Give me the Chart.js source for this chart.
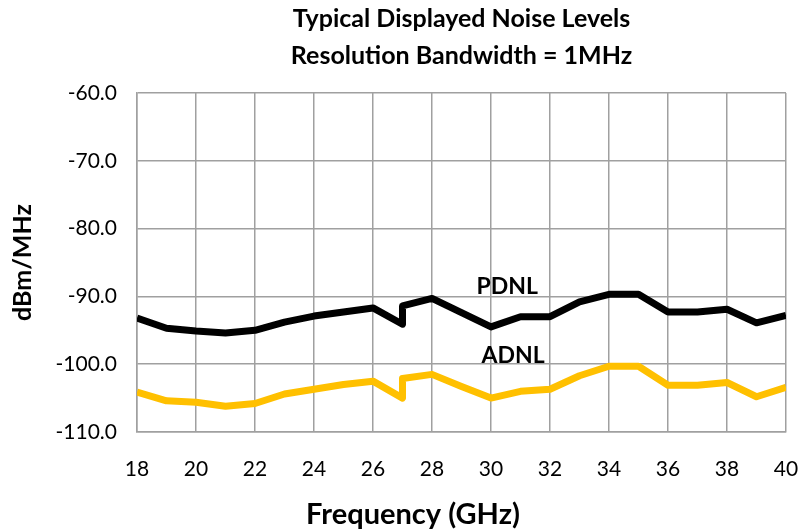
<!DOCTYPE html>
<html>
<head>
<meta charset="utf-8">
<script src="https://cdn.jsdelivr.net/npm/chart.js@4/dist/chart.umd.min.js"></script>
<style>
html,body{margin:0;padding:0;background:#fff;}
#wrap{width:799px;height:529px;}
</style>
</head>
<body>
<div id="wrap"><canvas id="c" width="799" height="529"></canvas></div>
<script>
const freq = [18,19,20,21,22,23,24,25,26,27,27,28,29,30,31,32,33,34,35,36,37,38,39,40];
const pdnl = [-93.2,-94.7,-95.1,-95.4,-95.0,-93.8,-92.9,-92.3,-91.7,-94.1,-91.4,-90.3,-92.4,-94.5,-93.0,-93.0,-90.8,-89.7,-89.7,-92.3,-92.3,-91.9,-93.9,-92.8];
const adnl = [-104.1,-105.4,-105.6,-106.2,-105.8,-104.4,-103.7,-103.0,-102.5,-105.0,-102.1,-101.5,-103.3,-105.0,-104.0,-103.7,-101.7,-100.3,-100.3,-103.1,-103.1,-102.7,-104.8,-103.4];
const seriesNames = ['PDNL','ADNL'];
const labelPos = [{x:30.55,y:-88.6},{x:30.75,y:-98.8}];
const xTitle = 'Frequency (GHz)';

const FONT = 'Lato, "Open Sans", sans-serif';

const extraText = {
  id:'extraText',
  afterDatasetsDraw(chart){
    const {ctx, scales:{x,y}} = chart;
    ctx.save();
    ctx.font = 'bold 23px ' + FONT;
    ctx.fillStyle = '#000';
    ctx.textAlign = 'center';
    ctx.textBaseline = 'middle';
    seriesNames.forEach((n,i)=>{
      ctx.fillText(n, x.getPixelForValue(labelPos[i].x), y.getPixelForValue(labelPos[i].y));
    });
    ctx.restore();
  },
  afterDraw(chart){
    const {ctx} = chart;
    ctx.save();
    ctx.font = 'bold 29px ' + FONT;
    ctx.fillStyle = '#000';
    ctx.textAlign = 'center';
    ctx.textBaseline = 'middle';
    ctx.fillText(xTitle, 413, 515);
    ctx.restore();
  }
};

new Chart(document.getElementById('c'), {
  type:'line',
  data:{
    datasets:[
      {label:seriesNames[0], data:freq.map((f,i)=>({x:f,y:pdnl[i]})), borderColor:'#000000', backgroundColor:'#000000', borderWidth:7, pointRadius:0, tension:0, borderJoinStyle:'round'},
      {label:seriesNames[1], data:freq.map((f,i)=>({x:f,y:adnl[i]})), borderColor:'#FFC000', backgroundColor:'#FFC000', borderWidth:7, pointRadius:0, tension:0, borderJoinStyle:'round'}
    ]
  },
  options:{
    responsive:false,
    animation:false,
    layout:{padding:{left:0,right:13,top:0,bottom:0}},
    plugins:{
      legend:{display:false},
      tooltip:{enabled:false},
      title:{
        display:true,
        fullSize:false,
        text:['Typical Displayed Noise Levels','Resolution Bandwidth = 1MHz'],
        color:'#000',
        font:{family:FONT, size:25, weight:'bold', lineHeight:1.48},
        padding:{top:0,bottom:19}
      }
    },
    scales:{
      x:{
        type:'linear', min:18, max:40,
        afterFit(s){ s.height = 97; s.paddingRight = 0; s.paddingLeft = 0; },
        ticks:{stepSize:2, color:'#000', font:{family:FONT, size:21}, padding:25},
        grid:{color:'#a0a0a0', lineWidth:1.5, drawTicks:false},
        border:{color:'#a0a0a0', width:1.5},
        title:{display:false}
      },
      y:{
        min:-110, max:-60,
        afterFit(s){ s.width = 137; },
        ticks:{stepSize:10, color:'#000', font:{family:FONT, size:21}, padding:20, callback:v=>v.toFixed(1)},
        grid:{color:'#a0a0a0', lineWidth:1.5, drawTicks:false},
        border:{color:'#a0a0a0', width:1.5},
        title:{display:true, text:'dBm/MHz', color:'#000', font:{family:FONT, size:25, weight:'bold'}, padding:{top:8,bottom:0}}
      }
    }
  },
  plugins:[extraText]
});
</script>
</body>
</html>
